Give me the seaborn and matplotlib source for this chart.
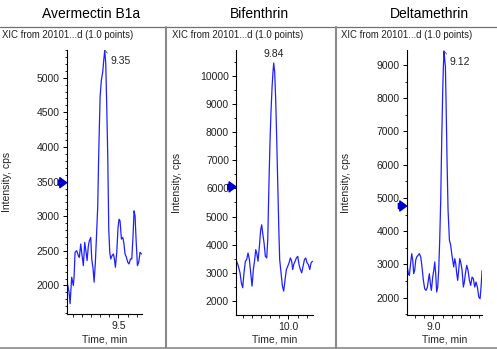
import matplotlib
matplotlib.use("Agg")
import matplotlib.pyplot as plt
from matplotlib.lines import Line2D
from matplotlib.ticker import FixedLocator, MultipleLocator, FormatStrFormatter
import matplotlib.transforms as mtransforms
import seaborn as sns
import pandas as pd

# ---------------- data ----------------
titles = ["Avermectin B1a", "Bifenthrin", "Deltamethrin"]
subtitle = "XIC from 20101...d (1.0 points)"

avermectin_time = [8.940, 8.958, 8.969, 8.987, 9.005, 9.013, 9.024, 9.042, 9.060, 9.071,
                   9.086, 9.101, 9.115, 9.130, 9.145, 9.156, 9.170, 9.181, 9.196, 9.207,
                   9.222, 9.233, 9.247, 9.258, 9.273, 9.284, 9.299, 9.313, 9.328, 9.339,
                   9.350, 9.361, 9.372, 9.383, 9.394, 9.405, 9.416, 9.430, 9.445, 9.456,
                   9.467, 9.482, 9.496, 9.507, 9.518, 9.533, 9.548, 9.559, 9.573, 9.588,
                   9.603, 9.617, 9.632, 9.647, 9.661, 9.672, 9.683, 9.694, 9.709, 9.723,
                   9.738, 9.753]
avermectin_int = [2024, 1904, 1737, 2120, 2000, 2120, 2479, 2502, 2431, 2407,
                  2598, 2431, 2287, 2622, 2479, 2359, 2574, 2646, 2694, 2383,
                  2239, 2048, 2335, 2670, 3148, 3914, 4727, 4967, 5086, 5254,
                  5397, 5206, 4584, 3866, 2813, 2479, 2383, 2431, 2455, 2383,
                  2263, 2479, 2837, 2957, 2933, 2670, 2694, 2622, 2455, 2407,
                  2335, 2311, 2383, 2383, 2718, 3077, 3005, 2670, 2287, 2335,
                  2479, 2455]

bifenthrin_time = [9.436, 9.455, 9.473, 9.487, 9.502, 9.516, 9.531, 9.545, 9.560, 9.575,
                   9.589, 9.604, 9.618, 9.633, 9.644, 9.655, 9.669, 9.684, 9.698, 9.709,
                   9.720, 9.735, 9.749, 9.764, 9.775, 9.789, 9.800, 9.811, 9.822, 9.833,
                   9.840, 9.851, 9.862, 9.873, 9.884, 9.895, 9.905, 9.920, 9.935, 9.949,
                   9.964, 9.978, 9.993, 10.007, 10.022, 10.036, 10.047, 10.058, 10.073, 10.087,
                   10.102, 10.116, 10.131, 10.145, 10.160, 10.175, 10.189, 10.204, 10.218, 10.233,
                   10.247, 10.262]
bifenthrin_int = [3411, 3235, 3000, 2647, 2470, 3000, 3411, 3470, 3705, 3470,
                  3000, 2529, 3117, 3470, 3823, 3705, 3411, 3940, 4528, 4705,
                  4411, 4058, 3588, 3529, 4176, 6292, 7704, 8762, 9585, 10173,
                  10450, 10115, 9115, 7704, 6175, 4646, 3470, 3000, 2529, 2353,
                  2764, 3117, 3235, 3352, 3529, 3411, 3117, 3294, 3411, 3529,
                  3588, 3294, 3117, 3000, 3235, 3470, 3529, 3352, 3294, 3117,
                  3352, 3411]

deltamethrin_time = [8.716, 8.727, 8.738, 8.753, 8.764, 8.775, 8.785, 8.796, 8.807, 8.818,
                     8.833, 8.847, 8.862, 8.876, 8.891, 8.905, 8.920, 8.935, 8.945, 8.956,
                     8.967, 8.978, 8.993, 9.004, 9.015, 9.025, 9.036, 9.047, 9.058, 9.069,
                     9.080, 9.091, 9.102, 9.109, 9.116, 9.124, 9.131, 9.138, 9.149, 9.160,
                     9.175, 9.189, 9.200, 9.211, 9.222, 9.233, 9.244, 9.255, 9.265, 9.276,
                     9.287, 9.298, 9.313, 9.327, 9.338, 9.349, 9.364, 9.378, 9.393, 9.407,
                     9.422, 9.436, 9.451, 9.465, 9.480, 9.495, 9.509, 9.520, 9.531]
deltamethrin_int = [2924, 2723, 2673, 3074, 3325, 3124, 2723, 2823, 3124, 3225,
                    3275, 3325, 3225, 2924, 2522, 2271, 2221, 2321, 2522, 2723,
                    2422, 2221, 2622, 2823, 3074, 2723, 2171, 2321, 2823, 3727,
                    4932, 6739, 8245, 8948, 9420, 9148, 8948, 7944, 6136, 4631,
                    3727, 3576, 3325, 3124, 2924, 3175, 3024, 2723, 2522, 2823,
                    3175, 3074, 2823, 2321, 2472, 2723, 2974, 2823, 2522, 2371,
                    2622, 2572, 2321, 2472, 2321, 2020, 1970, 2321, 2823]

peak_labels = ["9.35", "9.84", "9.12"]
peak_times = [9.350, 9.840, 9.116]
peak_values = [5397, 10450, 9420]
marker_levels = [3484, 6053, 4759]

x_limits = [(8.932, 9.756), (9.429, 10.265), (8.709, 9.527)]
y_limits = [(1584, 5400), (1504, 10911), (1480, 9451)]
x_major = [[9.5], [10.0], [9.0]]
y_major = [[2000, 2500, 3000, 3500, 4000, 4500, 5000],
           [2000, 3000, 4000, 5000, 6000, 7000, 8000, 9000, 10000],
           [2000, 3000, 4000, 5000, 6000, 7000, 8000, 9000]]
y_minor_step = [100, 500, 500]

times = [avermectin_time, bifenthrin_time, deltamethrin_time]
intensities = [avermectin_int, bifenthrin_int, deltamethrin_int]

# ---------------- style ----------------
sns.set_style("ticks")
plt.rcParams['font.family'] = ['Liberation Sans', 'DejaVu Sans']

W, H = 497, 349
fig = plt.figure(figsize=(W / 100, H / 100), dpi=100)

def fx(px):
    return px / W

def fy(py):
    return 1 - py / H

axes_px = [(66.7, 50, 141.7, 314.3), (236, 50, 312.7, 315), (406.7, 50, 481.7, 315)]
title_x = [91, 259, 429]
sub_x = [2, 171.5, 340.7]
ylabel_x = [7, 176.7, 346]
text_col = "#222222"
line_col = "#2020ff"

for i in range(3):
    l, t, r, b = axes_px[i]
    ax = fig.add_axes([fx(l), fy(b), (r - l) / W, (b - t) / H])
    df = pd.DataFrame({"Time, min": times[i], "Intensity, cps": intensities[i]})
    sns.lineplot(data=df, x="Time, min", y="Intensity, cps", ax=ax, color=line_col,
                 lw=0.9, estimator=None, sort=False)
    ax.set_xlim(*x_limits[i])
    ax.set_ylim(*y_limits[i])
    for s in ["top", "right"]:
        ax.spines[s].set_visible(False)
    for s in ["left", "bottom"]:
        ax.spines[s].set_color("black")
        ax.spines[s].set_linewidth(0.8)
    ax.xaxis.set_major_locator(FixedLocator(x_major[i]))
    ax.xaxis.set_major_formatter(FormatStrFormatter("%.1f"))
    ax.xaxis.set_minor_locator(MultipleLocator(0.1))
    ax.yaxis.set_major_locator(FixedLocator(y_major[i]))
    ax.yaxis.set_minor_locator(MultipleLocator(y_minor_step[i]))
    ax.tick_params(axis="both", which="major", length=3, width=0.7, pad=2,
                   labelsize=7.5, colors="black", labelcolor=text_col)
    ax.tick_params(axis="both", which="minor", length=1.8, width=0.6, colors="black")
    ax.set_xlabel("Time, min", fontsize=7.5, color=text_col)
    ax.set_ylabel("Intensity, cps", fontsize=7.5, color=text_col)
    ax.xaxis.set_label_coords(0.5, -(340 - b) / (b - t))
    ax.xaxis.label.set_va("center")
    ax.yaxis.set_label_coords((ylabel_x[i] - l) / (r - l), 0.5)
    ax.yaxis.label.set_va("center")

    # peak annotation
    if i == 1:
        ax.annotate(peak_labels[i], xy=(peak_times[i], peak_values[i]), xytext=(0, 3),
                    textcoords="offset points", ha="center", va="bottom",
                    fontsize=7.5, color=text_col, annotation_clip=False)
    else:
        ax.annotate(peak_labels[i], xy=(peak_times[i], peak_values[i]), xytext=(4, -4.5),
                    textcoords="offset points", ha="left", va="top",
                    fontsize=7.5, color=text_col, annotation_clip=False,
                    arrowprops=dict(arrowstyle="-", color="#555555", lw=0.6,
                                    shrinkA=0, shrinkB=0, relpos=(0, 1)))

    # threshold arrow marker on y axis
    trans = mtransforms.blended_transform_factory(ax.transAxes, ax.transData)
    ax.annotate("", xy=(0.0, marker_levels[i]), xycoords=trans,
                xytext=(-6, 0), textcoords="offset points", annotation_clip=False,
                arrowprops=dict(arrowstyle="simple,head_length=0.55,head_width=0.8,tail_width=0.4",
                                color="#0000c8", shrinkA=0, shrinkB=0, mutation_scale=9))

    fig.text(fx(title_x[i]), fy(14.5), titles[i], ha="center", va="center",
             fontsize=10, color="black")
    fig.text(fx(sub_x[i]), fy(35), subtitle, ha="left", va="center",
             fontsize=6.9, color=text_col)

# frame lines
frame_col = "#8a8a8a"
fig.add_artist(Line2D([0, 1], [fy(27.3), fy(27.3)], color="#707070", lw=0.9))
fig.add_artist(Line2D([0, 1], [fy(348.3), fy(348.3)], color=frame_col, lw=1.2))
for xv in [165.7, 335.7]:
    fig.add_artist(Line2D([fx(xv), fx(xv)], [fy(27.3), fy(349)], color=frame_col, lw=1.5))

fig.savefig("out.png", dpi=100)
